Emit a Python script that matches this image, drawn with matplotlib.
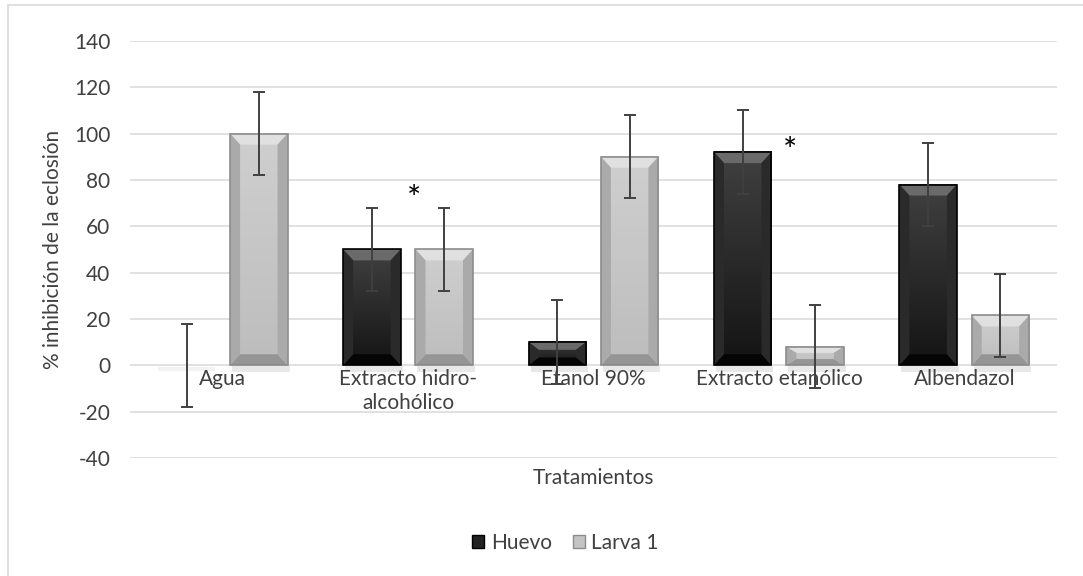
import matplotlib
matplotlib.use('Agg')
import matplotlib.pyplot as plt
from matplotlib.patches import Polygon, Patch, Rectangle
import numpy as np

plt.rcParams['font.family'] = ['Lato', 'DejaVu Sans']
plt.rcParams['axes.unicode_minus'] = False

# datos
categorias = ['Agua', 'Extracto hidro-\nalcohólico', 'Etanol 90%', 'Extracto etanólico', 'Albendazol']
huevo = [0, 50, 10, 92, 78]
larva = [100, 50, 90, 8, 21.5]
err_huevo = [18, 18, 18, 18, 18]
err_larva = [18, 18, 18, 18, 18]
asteriscos = [(1.03, 75), (3.06, 96)]

fig = plt.figure(figsize=(10.83, 5.76), dpi=100)
ax = fig.add_axes([0.120, 0.205, 0.856, 0.724])
ax.set_xlim(-0.5, len(categorias) - 0.5)
ax.set_ylim(-40, 140)
ax.set_yticks(np.arange(-40, 141, 20))
ax.set_xticks([])
ax.grid(axis='y', color='#d9d9d9', lw=1.1)
ax.set_axisbelow(True)
for s in ax.spines.values():
    s.set_visible(False)
ax.tick_params(axis='y', length=0, labelsize=15, labelcolor='#404040', pad=14)

x = np.arange(len(categorias))
w = 0.31
off = 0.195

# estilo de barras biseladas
estilos = {
    'huevo': dict(face_top='#404040', face_bot='#141414', top='#6a6a6a', side='#2a2a2a',
                  bottom='#050505', edge='#000000'),
    'larva': dict(face_top='#cfcfcf', face_bot='#bdbdbd', top='#e0e0e0', side='#aaaaaa',
                  bottom='#959595', edge='#8c8c8c'),
}

inv = ax.transData.inverted()
def px_to_data(px, py):
    a = inv.transform((0, 0))
    b = inv.transform((px, py))
    return b[0] - a[0], b[1] - a[1]

bx, by = px_to_data(10, 11)
sx, sy = px_to_data(0, 4)
_, star_dy = px_to_data(0, 9)

def barra(xc, h, st):
    if h <= 0:
        ax.add_patch(Rectangle((xc - w / 2, -sy * 1.5), w, sy, color='#f3f3f3', lw=0, zorder=1.5))
        return
    x0, x1 = xc - w / 2, xc + w / 2
    # sombra
    ax.add_patch(Rectangle((x0 + bx * 0.2, -sy * 1.6), w, sy * 1.6, color='#e8e8e8', lw=0, zorder=1.5))
    # cara con degradado
    grad = np.linspace(0, 1, 64)
    c1 = np.array(matplotlib.colors.to_rgb(st['face_top']))
    c2 = np.array(matplotlib.colors.to_rgb(st['face_bot']))
    img = (c1[None, :] * (1 - grad[:, None]) + c2[None, :] * grad[:, None]).reshape(64, 1, 3)
    ax.imshow(img, extent=(x0, x1, 0, h), aspect='auto', zorder=2, interpolation='bilinear')
    bb = min(by, h / 3)
    ax.add_patch(Polygon([(x0, h), (x1, h), (x1 - bx, h - bb), (x0 + bx, h - bb)],
                         closed=True, color=st['top'], lw=0, zorder=3))
    ax.add_patch(Polygon([(x0, 0), (x1, 0), (x1 - bx, bb), (x0 + bx, bb)],
                         closed=True, color=st['bottom'], lw=0, zorder=3))
    ax.add_patch(Polygon([(x0, 0), (x0, h), (x0 + bx, h - bb), (x0 + bx, bb)],
                         closed=True, color=st['side'], lw=0, zorder=3))
    ax.add_patch(Polygon([(x1, 0), (x1, h), (x1 - bx, h - bb), (x1 - bx, bb)],
                         closed=True, color=st['side'], lw=0, zorder=3))
    ax.add_patch(Rectangle((x0, 0), w, h, fill=False, ec=st['edge'], lw=1.2, zorder=3.5))

for i in range(len(categorias)):
    barra(x[i] - off, huevo[i], estilos['huevo'])
    barra(x[i] + off, larva[i], estilos['larva'])

ax.set_xlim(-0.5, len(categorias) - 0.5)
ax.set_ylim(-40, 140)

ax.errorbar(x - off, huevo, yerr=err_huevo, fmt='none', ecolor='#404040',
            elinewidth=1.4, capsize=4.5, capthick=1.4, zorder=5)
ax.errorbar(x + off, larva, yerr=err_larva, fmt='none', ecolor='#404040',
            elinewidth=1.4, capsize=4.5, capthick=1.4, zorder=5)

for xa, ya in asteriscos:
    ax.text(xa, ya - star_dy, '*', ha='center', va='center', fontsize=24, color='#000000', zorder=6)

for i, c in enumerate(categorias):
    ax.annotate(c, (x[i], 0), xytext=(0, -3), textcoords='offset points',
                ha='center', va='top', fontsize=15, color='#404040', linespacing=1.2)

ax.set_ylabel('% inhibición de la eclosión', fontsize=15, color='#404040', labelpad=8)
fig.text(0.548, 0.170, 'Tratamientos', ha='center', va='center', fontsize=15, color='#404040')

handles = [Patch(facecolor='#222222', edgecolor='#000000', label='Huevo'),
           Patch(facecolor='#c4c4c4', edgecolor='#8c8c8c', label='Larva 1')]
leg = fig.legend(handles=handles, loc='center', bbox_to_anchor=(0.522, 0.057), ncol=2,
                 frameon=False, fontsize=15, handlelength=0.6, handleheight=0.6,
                 handletextpad=0.3, columnspacing=1.0)
for t in leg.get_texts():
    t.set_color('#404040')

# marco del gráfico
fig.patches.append(Rectangle((8 / 1083, -0.01), 1.02, 1 - 5 / 576 + 0.01, transform=fig.transFigure,
                             fill=False, ec='#d9d9d9', lw=1.2))

fig.savefig('out.png', dpi=100)
